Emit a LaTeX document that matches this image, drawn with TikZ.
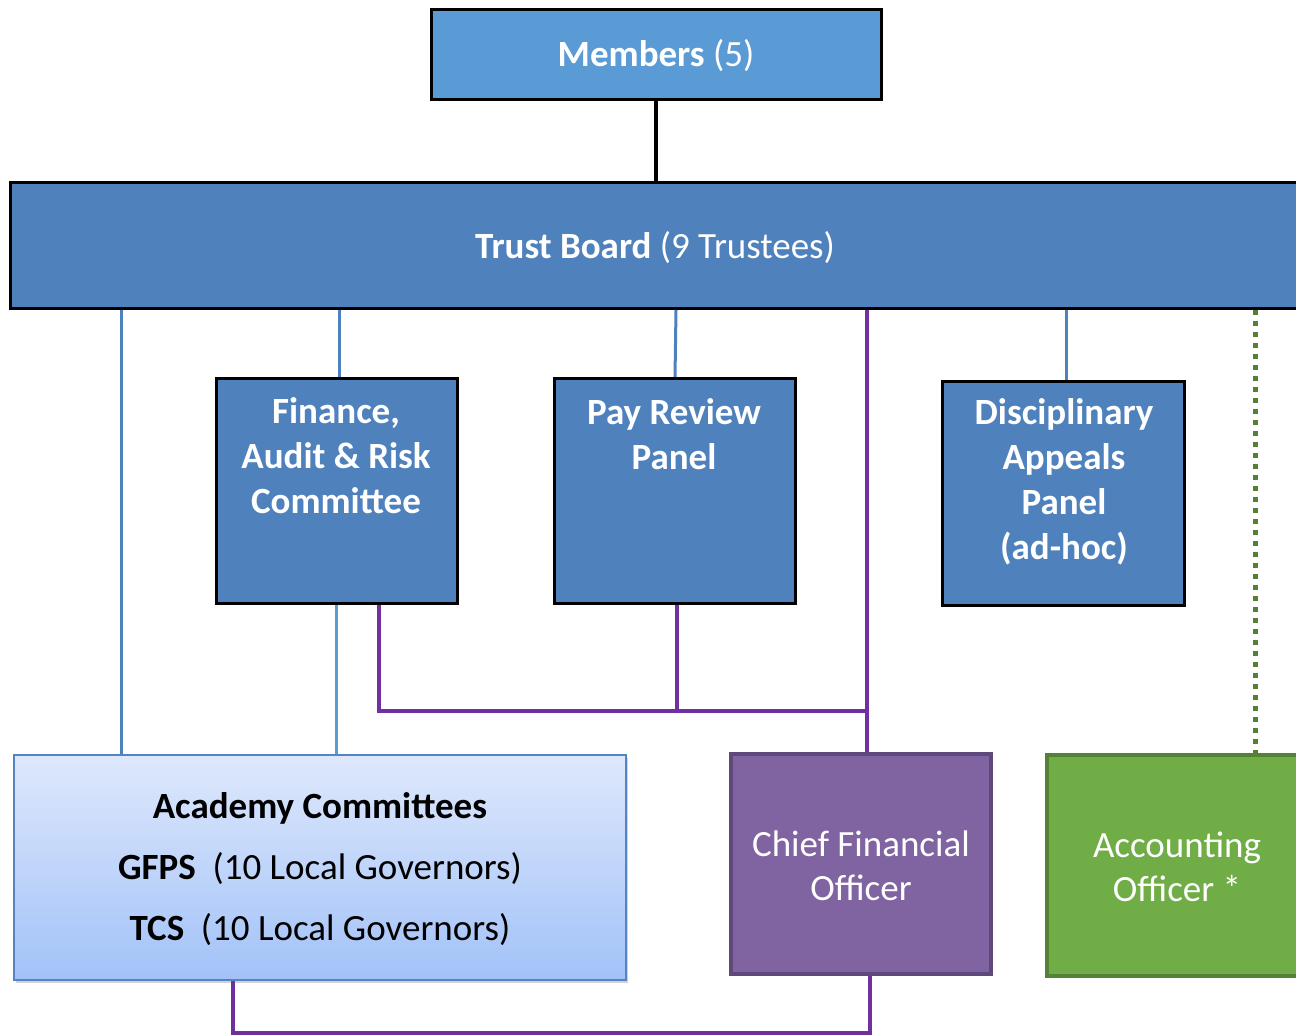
\documentclass[tikz,border=0pt]{standalone}
\usepackage{fontspec}
\setmainfont{Carlito}
\usetikzlibrary{shadows}
\definecolor{memblue}{HTML}{5B9BD5}
\definecolor{tbblue}{HTML}{4F81BD}
\definecolor{cfopurple}{HTML}{8064A2}
\definecolor{cfoborder}{HTML}{5F497A}
\definecolor{linepurple}{HTML}{7030A0}
\definecolor{aogreen}{HTML}{70AD47}
\definecolor{aoborder}{HTML}{548235}
\definecolor{acadtop}{HTML}{DEE8FC}
\definecolor{acadbot}{HTML}{A2C2F8}
\definecolor{acadborder}{HTML}{5584C4}
\definecolor{lightline}{HTML}{5B9BD5}
\begin{document}
\begin{tikzpicture}[x=1pt,y=-1pt,
  box/.style={draw=black, line width=3pt, fill=tbblue, inner sep=0pt},
  wtxt/.style={text=white, font=\fontsize{37}{45}\selectfont\bfseries, align=center, inner sep=0pt},
  ntxt/.style={text=white, font=\fontsize{37}{44}\selectfont, align=center, inner sep=0pt},
  btxt/.style={text=black, font=\fontsize{37}{61}\selectfont, align=center, inner sep=0pt},
  blueline/.style={draw=tbblue, line width=3pt},
  lblueline/.style={draw=lightline, line width=3pt},
  purpline/.style={draw=linepurple, line width=4pt},
  greendot/.style={draw=aoborder, line width=5pt, dash pattern=on 5pt off 6pt}
]
\clip (0,0) rectangle (1296,1036);
\fill[white] (0,0) rectangle (1296,1036);

% boxes
\node[box, fill=memblue, minimum width=450, minimum height=90] (members) at (656,54) {};
\node[wtxt] (memtxt) at (656,56) {Members \mdseries(5)};

\node[box, minimum width=1310, minimum height=126, anchor=north west] (tb) at (9,181) {};
\node[wtxt] (tbtxt) at (655,248) {Trust Board \mdseries(9 Trustees)};

\node[box, minimum width=241, minimum height=225, anchor=north west] (fin) at (215,377) {};
\node[wtxt] (fintxt) at (336,456) {Finance,\\Audit \& Risk\\Committee};

\node[box, minimum width=241, minimum height=225, anchor=north west] (pay) at (553,377) {};
\node[wtxt] (paytxt) at (674,434) {Pay Review\\Panel};

\node[box, minimum width=242, minimum height=224, anchor=north west] (disc) at (941,380) {};
\node[wtxt] (disctxt) at (1064,482) {Disciplinary\\Appeals\\Panel\\(ad-hoc)};

\node[draw=acadborder, line width=2pt, top color=acadtop, bottom color=acadbot,
      minimum width=612, minimum height=225, anchor=north west,
      drop shadow={shadow xshift=2pt, shadow yshift=-3pt, opacity=0.35}] (acad) at (13,754) {};
\node[btxt] (acadtxt) at (320,869) {\textbf{Academy Committees}\\
  \textbf{GFPS}\ \ (10 Local Governors)\\
  \textbf{TCS}\ \ (10 Local Governors)};

\node[draw=cfoborder, line width=4pt, fill=cfopurple, minimum width=260, minimum height=220, anchor=north west] (cfo) at (729,752) {};
\node[ntxt] (cfotxt) at (861,866) {Chief Financial\\Officer};

\node[draw=aoborder, line width=4pt, fill=aogreen, minimum width=300, minimum height=221, anchor=north west] (ao) at (1045,753) {};
\node[ntxt] (aotxt) at (1177,867) {Accounting\\Officer *};

% connectors
\draw[draw=black, line width=4pt] (members.south) -- (members.south |- tb.north);
\draw[blueline] (tb.south -| 121,0) -- (acad.north -| 121,0);
\draw[blueline] (tb.south -| 339,0) -- (fin.north -| 339,0);
\draw[blueline] (tb.south -| 676,0) -- (pay.north -| 675,0);
\draw[blueline] (tb.south -| 1066,0) -- (disc.north -| 1066,0);
\draw[lblueline] (fin.south -| 336,0) -- (acad.north -| 336,0);
\draw[purpline] (tb.south -| 867,0) -- (cfo.north -| 867,0);
\coordinate (j1) at (867,711);
\draw[purpline] (fin.south -| 379,0) |- (j1);
\draw[purpline] (pay.south -| 677,0) -- (677,711);
\coordinate (j2) at (233,1033);
\draw[purpline] (acad.south -| 233,0) -- (j2) -| (cfo.south -| 870,0);
\draw[greendot] (tb.south -| 1255,0) -- (ao.north -| 1255,0);
\end{tikzpicture}
\end{document}
